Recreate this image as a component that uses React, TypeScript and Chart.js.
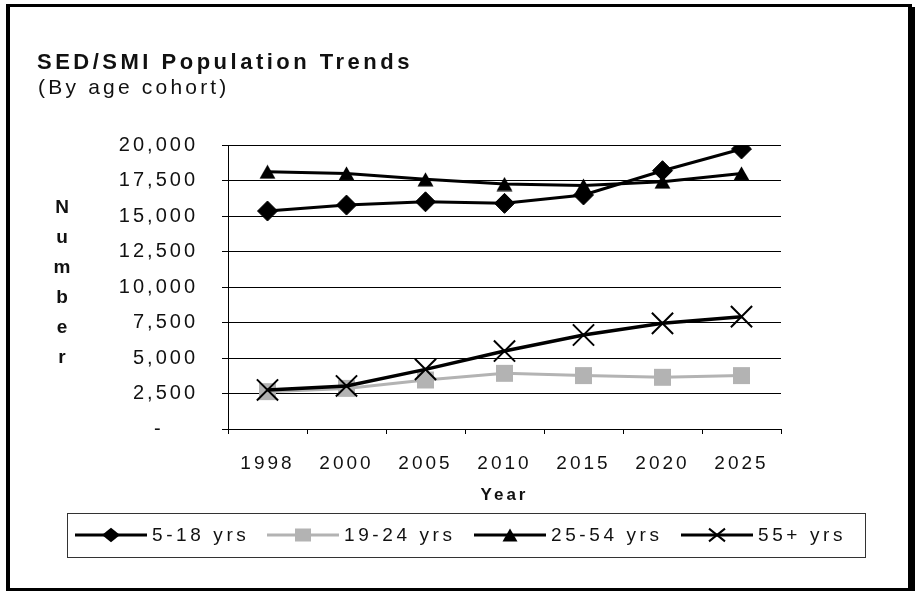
import React, { useEffect, useRef } from 'react';
import { Chart, registerables } from 'chart.js';

Chart.register(...registerables);

// ---- data ----
const categories = ['1998', '2000', '2005', '2010', '2015', '2020', '2025'];
const seriesNames = ['5-18 yrs', '19-24 yrs', '25-54 yrs', '55+ yrs'];
const yrs5to18 = [15350, 15770, 16000, 15890, 16480, 18190, 19720];
const yrs19to24 = [2630, 2860, 3450, 3920, 3760, 3640, 3760];
const yrs25to54 = [18120, 18000, 17580, 17250, 17140, 17420, 18000];
const yrs55plus = [2750, 3030, 4200, 5490, 6620, 7440, 7910];
const yMin = 0;
const yMax = 20000;
const yStep = 2500;
const titleText = 'SED/SMI Population Trends';
const subtitleText = '(By age cohort)';
const yAxisTitle = 'Number';
const xAxisTitle = 'Year';

const FONT = '"Liberation Sans", Arial, sans-serif';
const SPACING = '3px';
const BLACK = '#000000';
const GREY = '#b3b3b3';

function makeTriangle(w: number, h: number, color: string): HTMLCanvasElement {
  const c = document.createElement('canvas');
  c.width = w;
  c.height = h;
  const g = c.getContext('2d')!;
  g.fillStyle = color;
  g.beginPath();
  g.moveTo(w / 2, 0.5);
  g.lineTo(w - 0.5, h - 0.5);
  g.lineTo(0.5, h - 0.5);
  g.closePath();
  g.fill();
  return c;
}

function drawMarker(ctx: CanvasRenderingContext2D, kind: string, x: number, y: number, color: string, tri?: HTMLCanvasElement) {
  ctx.save();
  ctx.fillStyle = color;
  ctx.strokeStyle = color;
  if (kind === 'diamond') {
    const r = 9;
    ctx.beginPath();
    ctx.moveTo(x - r, y);
    ctx.lineTo(x, y - r * 0.8);
    ctx.lineTo(x + r, y);
    ctx.lineTo(x, y + r * 0.8);
    ctx.closePath();
    ctx.fill();
  } else if (kind === 'square') {
    const h = 7;
    ctx.fillRect(x - h - 1, y - h + 0.5, 2 * h + 2, 2 * h - 1);
  } else if (kind === 'triangle' && tri) {
    ctx.drawImage(tri, x - tri.width / 2, y - tri.height / 2);
  } else if (kind === 'x') {
    const r = 8;
    ctx.lineWidth = 2;
    ctx.beginPath();
    ctx.moveTo(x - r, y - r * 0.8);
    ctx.lineTo(x + r, y + r * 0.8);
    ctx.moveTo(x + r, y - r * 0.8);
    ctx.lineTo(x - r, y + r * 0.8);
    ctx.stroke();
  }
  ctx.restore();
}

export default function App() {
  const canvasRef = useRef<HTMLCanvasElement | null>(null);

  useEffect(() => {
    document.body.style.margin = '0';
    const canvas = canvasRef.current;
    if (!canvas) return;

    const triChart = makeTriangle(17, 15, BLACK);
    const triLegend = makeTriangle(16, 14, BLACK);

    const decor = {
      id: 'decor',
      beforeUpdate(chart: any) {
        chart.ctx.letterSpacing = SPACING;
      },
      beforeDraw(chart: any) {
        const ctx: CanvasRenderingContext2D = chart.ctx;
        ctx.save();
        ctx.fillStyle = '#ffffff';
        ctx.fillRect(0, 0, chart.width, chart.height);
        ctx.fillStyle = BLACK;
        ctx.fillRect(6, 4, 906, 3); // top
        ctx.fillRect(6, 4, 4, 587); // left
        ctx.fillRect(908, 7, 7, 584); // right
        ctx.fillRect(6, 588, 909, 3); // bottom
        ctx.restore();
        ctx.letterSpacing = SPACING;
      },
      afterDraw(chart: any) {
        const ctx: CanvasRenderingContext2D = chart.ctx;
        ctx.save();
        ctx.fillStyle = '#111111';
        ctx.textAlign = 'left';
        ctx.textBaseline = 'alphabetic';
        // title
        ctx.font = `bold 22px ${FONT}`;
        (ctx as any).letterSpacing = '3.5px';
        ctx.fillText(titleText, 37, 69);
        ctx.font = `21px ${FONT}`;
        (ctx as any).letterSpacing = '3.2px';
        ctx.fillText(subtitleText, 38, 94);
        // vertical y-axis title
        ctx.font = `bold 19px ${FONT}`;
        (ctx as any).letterSpacing = '0px';
        ctx.textAlign = 'center';
        const letters = yAxisTitle.split('');
        letters.forEach((ch, i) => {
          ctx.fillText(ch, 62, 213 + 30 * i);
        });
        // legend
        ctx.strokeStyle = '#333333';
        ctx.lineWidth = 1;
        ctx.strokeRect(67.5, 513.5, 798, 44);
        const starts = [75, 267, 474, 681];
        const colors = [BLACK, GREY, BLACK, BLACK];
        const kinds = ['diamond', 'square', 'triangle', 'x'];
        const ly = 535;
        ctx.font = `19px ${FONT}`;
        (ctx as any).letterSpacing = '3.6px';
        ctx.textAlign = 'left';
        ctx.textBaseline = 'middle';
        seriesNames.forEach((name, i) => {
          const sx = starts[i];
          ctx.strokeStyle = colors[i];
          ctx.lineWidth = 3;
          ctx.beginPath();
          ctx.moveTo(sx, ly);
          ctx.lineTo(sx + 72, ly);
          ctx.stroke();
          drawMarker(ctx, kinds[i], sx + 36, ly, colors[i], triLegend);
          ctx.fillStyle = '#111111';
          ctx.fillText(name, sx + 77, ly + 1);
        });
        ctx.restore();
      },
    };

    const chart = new Chart(canvas, {
      type: 'line',
      data: {
        labels: categories,
        datasets: [
          {
            label: seriesNames[0],
            data: yrs5to18,
            borderColor: BLACK,
            backgroundColor: BLACK,
            borderWidth: 3,
            pointStyle: 'rectRot',
            pointRadius: 10,
            pointBorderWidth: 1,
            pointBackgroundColor: BLACK,
            pointBorderColor: BLACK,
            tension: 0,
            order: 4,
          },
          {
            label: seriesNames[1],
            data: yrs19to24,
            borderColor: GREY,
            backgroundColor: GREY,
            borderWidth: 3,
            pointStyle: 'rect',
            pointRadius: 12,
            pointBorderWidth: 0,
            pointBackgroundColor: GREY,
            pointBorderColor: GREY,
            tension: 0,
            order: 3,
          },
          {
            label: seriesNames[2],
            data: yrs25to54,
            borderColor: BLACK,
            backgroundColor: BLACK,
            borderWidth: 3,
            pointStyle: triChart as any,
            pointRadius: 9,
            tension: 0,
            order: 2,
          },
          {
            label: seriesNames[3],
            data: yrs55plus,
            borderColor: BLACK,
            backgroundColor: BLACK,
            borderWidth: 3.5,
            pointStyle: 'crossRot',
            pointRadius: 15,
            pointBorderWidth: 2,
            pointBorderColor: BLACK,
            tension: 0,
            order: 1,
          },
        ],
      },
      options: {
        responsive: false,
        animation: false,
        devicePixelRatio: 1,
        layout: { padding: { left: 0, top: 145, right: 136, bottom: 82 } },
        plugins: {
          legend: { display: false },
          title: { display: false },
          tooltip: { enabled: false },
        },
        scales: {
          x: {
            type: 'category',
            offset: true,
            grid: {
              display: true,
              drawOnChartArea: false,
              drawTicks: true,
              tickLength: 5,
              color: BLACK,
              offset: true,
            },
            border: { display: true, color: BLACK, width: 1 },
            ticks: {
              color: '#111111',
              font: { family: FONT, size: 19 },
              padding: 18,
              maxRotation: 0,
              autoSkip: false,
            },
            title: {
              display: true,
              text: xAxisTitle,
              color: '#111111',
              font: { family: FONT, size: 17, weight: 'bold' },
              padding: { top: 0, bottom: 3 },
            },
            afterFit(scale: any) {
              scale.height = 80;
            },
          },
          y: {
            min: yMin,
            max: yMax,
            grid: {
              color: BLACK,
              lineWidth: 1,
              tickLength: 6,
              drawTicks: true,
            },
            border: { display: true, color: BLACK, width: 1 },
            ticks: {
              stepSize: yStep,
              color: '#111111',
              font: { family: FONT, size: 20 },
              padding: 24,
              callback: (v: any) => (Number(v) === 0 ? '-    ' : Number(v).toLocaleString('en-US')),
            },
            afterFit(scale: any) {
              scale.width = 228;
            },
          },
        },
      },
      plugins: [decor],
    });

    return () => {
      chart.destroy();
    };
  }, []);

  return (
    <div style={{ position: 'fixed', left: 0, top: 0, width: 917, height: 591 }}>
      <canvas ref={canvasRef} width={917} height={591} style={{ display: 'block', width: 917, height: 591 }} />
    </div>
  );
}
